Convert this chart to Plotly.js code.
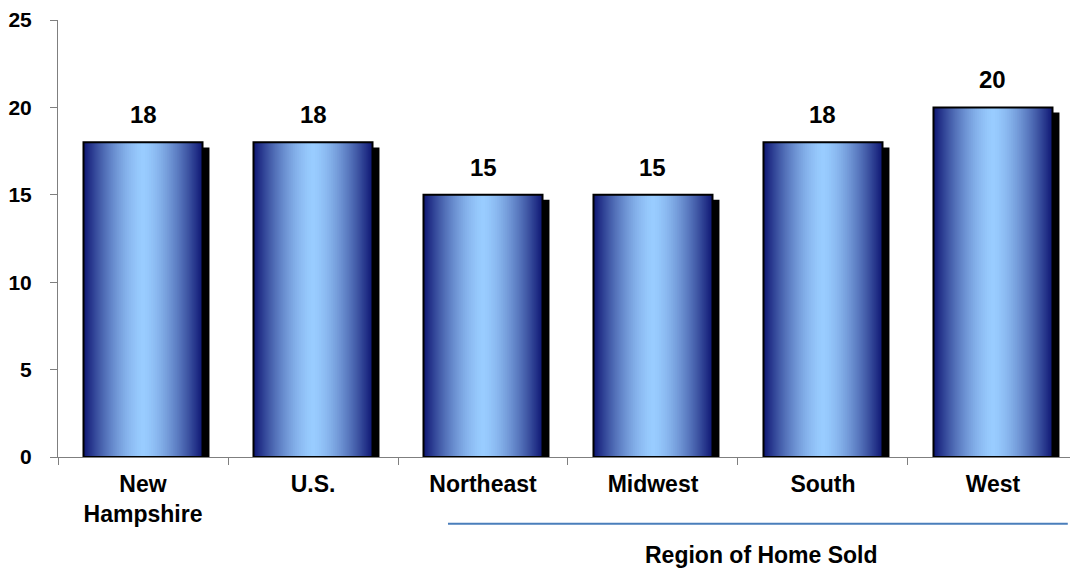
<!DOCTYPE html>
<html>
<head>
<meta charset="utf-8">
<script src="https://cdn.plot.ly/plotly-3.0.1.min.js"></script>
<style>html,body{margin:0;padding:0;background:#fff;}#chart{width:1070px;height:571px;}</style>
</head>
<body>
<div id="chart"></div>
<script>
// Data
const categories = ["New<br>Hampshire", "U.S.", "Northeast", "Midwest", "South", "West"];
const values = [18, 18, 15, 15, 18, 20];
const valueLabels = ["18", "18", "15", "15", "18", "20"];
const yTicks = [0, 5, 10, 15, 20, 25];
const axisTitle = "Region of Home Sold";

// Style
const FONT = "Arial, 'Liberation Sans', sans-serif";
const BAR_W = 0.70;          // bar width in category units
const N_STRIPS = 60;         // gradient strips
const SHADOW_DX = 0.035;     // shadow x offset (category units)
const SHADOW_DY = 0.29;      // shadow y offset (value units)
const DARK = [14, 22, 115];
const LIGHT = [153, 204, 255];

function gradColor(p) {
  const t = Math.min(1, Math.abs(p - 0.5) / 0.5);
  const k = Math.pow(t, 1.5);
  const c = DARK.map((d, i) => Math.round(LIGHT[i] + (d - LIGHT[i]) * k));
  return `rgb(${c[0]},${c[1]},${c[2]})`;
}

const traces = [];

// Shadow
traces.push({
  type: "bar", x: categories, y: values.map(v => v - SHADOW_DY),
  width: BAR_W + 0.012, offset: -BAR_W / 2 + SHADOW_DX - 0.006,
  marker: { color: "#000000", line: { width: 0 } },
  hoverinfo: "skip", showlegend: false, cliponaxis: false
});

// Gradient strips (each extends to the right edge; later strips overlay earlier ones)
const sw = BAR_W / N_STRIPS;
for (let k = 0; k < N_STRIPS; k++) {
  const col = gradColor((k + 0.5) / N_STRIPS);
  traces.push({
    type: "bar", x: categories, y: values,
    width: BAR_W - k * sw, offset: -BAR_W / 2 + k * sw,
    marker: { color: col, line: { width: 0 } },
    hoverinfo: "skip", showlegend: false
  });
}

// Outline
traces.push({
  type: "bar", x: categories, y: values,
  width: BAR_W, offset: -BAR_W / 2,
  marker: { color: "rgba(0,0,0,0)", line: { color: "#000000", width: 2 } },
  hoverinfo: "skip", showlegend: false
});

const annotations = categories.map((c, i) => ({
  x: c, y: values[i], xref: "x", yref: "y",
  text: valueLabels[i], showarrow: false,
  yanchor: "bottom", yshift: 12,
  font: { family: FONT, size: 24, color: "#000000", weight: "bold" }
}));

annotations.push({
  x: 3.64, y: -0.225, xref: "x", yref: "paper",
  text: axisTitle, showarrow: false, yanchor: "middle",
  font: { family: FONT, size: 23, color: "#000000", weight: "bold" }
});

const layout = {
  width: 1070, height: 571,
  margin: { l: 58, r: 0, t: 20, b: 114 },
  paper_bgcolor: "#ffffff", plot_bgcolor: "#ffffff",
  barmode: "overlay",
  showlegend: false,
  font: { family: FONT, color: "#000000" },
  xaxis: {
    type: "category",
    range: [-0.5, 5.453],
    showgrid: false, zeroline: false,
    showline: true, linecolor: "#7f7f7f", linewidth: 1,
    ticks: "outside", ticklen: 7, tickcolor: "#7f7f7f",
    tickson: "boundaries",
    ticklabelstandoff: 6,
    tickfont: { family: FONT, size: 23, color: "#000000", weight: "bold" }
  },
  yaxis: {
    range: [0, 25],
    tickvals: yTicks,
    showgrid: false, zeroline: false,
    showline: true, linecolor: "#7f7f7f", linewidth: 1,
    ticks: "outside", ticklen: 7, tickcolor: "#7f7f7f",
    ticklabelstandoff: 14,
    tickfont: { family: FONT, size: 21, color: "#000000", weight: "bold" }
  },
  shapes: [{
    type: "line", xref: "x", yref: "paper",
    x0: 1.794, x1: 5.44, y0: -0.153, y1: -0.153,
    line: { color: "#4a7ebb", width: 2 }
  }],
  annotations: annotations
};

Plotly.newPlot("chart", traces, layout, { staticPlot: true, displayModeBar: false });
</script>
</body>
</html>
